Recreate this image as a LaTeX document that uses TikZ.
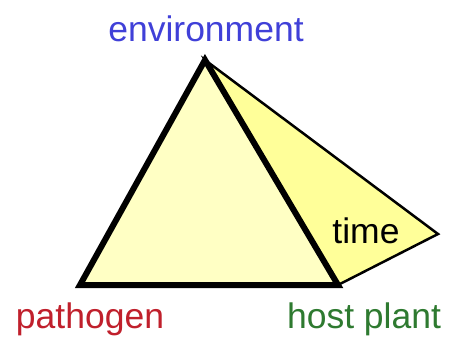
\documentclass[tikz,border=0pt]{standalone}
\usepackage{fontspec}
\setmainfont{Liberation Sans}
\definecolor{paleY}{HTML}{FFFFC4}
\definecolor{sideY}{HTML}{FFFF99}
\definecolor{envblue}{HTML}{4040D8}
\definecolor{pathred}{HTML}{C0202C}
\definecolor{hostgreen}{HTML}{2E7A30}
\tikzset{
  lbl/.style={anchor=base, inner sep=0pt, font=\fontsize{35.5}{40}\selectfont},
  thickedge/.style={line width=6pt, line join=miter, line cap=round},
  thinedge/.style={line width=2.5pt, line join=miter}
}
\begin{document}
\begin{tikzpicture}[x=1pt,y=-1pt]
\useasboundingbox (0,0) rectangle (450,337);
\coordinate (apex) at (205,60);
\coordinate (left) at (80,285);
\coordinate (right) at (338,285);
\coordinate (tvert) at (438,234);
\filldraw[fill=sideY, thinedge] (apex) -- (tvert) -- (right) -- cycle;
\filldraw[fill=paleY, thickedge] (apex) -- (left) -- (right) -- cycle;
\node[lbl, text=envblue] (env) at (206,42) {environment};
\node[lbl, text=pathred] (path) at (90,328) {pathogen};
\node[lbl, text=hostgreen] (host) at (364,328) {host plant};
\node[lbl, text=black] (time) at (366,243) {time};
\end{tikzpicture}
\end{document}
